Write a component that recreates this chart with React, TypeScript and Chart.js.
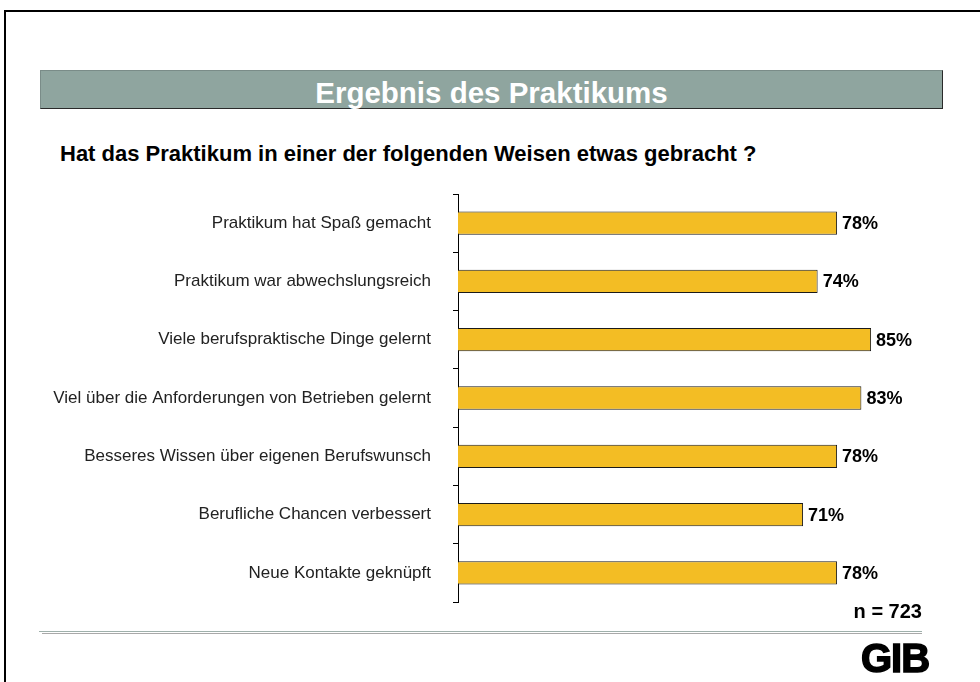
import React, { useEffect, useRef } from "react";
import { Chart, registerables } from "chart.js";

Chart.register(...registerables);

const categories: string[] = [
  "Praktikum hat Spaß gemacht",
  "Praktikum war abwechslungsreich",
  "Viele berufspraktische Dinge gelernt",
  "Viel über die Anforderungen von Betrieben gelernt",
  "Besseres Wissen über eigenen Berufswunsch",
  "Berufliche Chancen verbessert",
  "Neue Kontakte geknüpft",
];
const values: number[] = [78, 74, 85, 83, 78, 71, 78];
const titleText = "Ergebnis des Praktikums";
const subtitleText = "Hat das Praktikum in einer der folgenden Weisen etwas gebracht ?";
const sampleText = "n = 723";
const logoText = "GIB";

const FONT = "'Liberation Sans', Arial, Helvetica, sans-serif";

const valueLabelPlugin = {
  id: "valueLabels",
  afterDatasetsDraw(chart: any) {
    const ctx = chart.ctx;
    const meta = chart.getDatasetMeta(0);
    const data = chart.data.datasets[0].data as number[];
    ctx.save();
    ctx.font = `bold 18px ${FONT}`;
    ctx.fillStyle = "#000";
    ctx.textAlign = "left";
    ctx.textBaseline = "middle";
    meta.data.forEach((el: any, i: number) => {
      ctx.fillText(`${data[i]}%`, el.x + 5, el.y + 1);
    });
    ctx.restore();
  },
};

export default function App() {
  const canvasRef = useRef<HTMLCanvasElement | null>(null);

  useEffect(() => {
    document.body.style.margin = "0";
    document.body.style.overflow = "hidden";
    const canvas = canvasRef.current;
    if (!canvas) return;
    const chart = new Chart(canvas, {
      type: "bar",
      data: {
        labels: categories,
        datasets: [
          {
            data: values,
            backgroundColor: "#f3bd24",
            borderColor: "#1a1a1a",
            borderWidth: 1,
            barPercentage: 0.4,
            categoryPercentage: 1,
          },
        ],
      },
      options: {
        indexAxis: "y",
        responsive: false,
        animation: false,
        layout: { padding: { top: 194, bottom: 80, right: 36, left: 0 } },
        plugins: {
          legend: { display: false },
          tooltip: { enabled: false },
          title: { display: false },
        },
        scales: {
          x: { min: 0, max: 100, display: false },
          y: {
            afterFit: (scale: any) => {
              scale.width = 458;
            },
            grid: {
              offset: true,
              drawOnChartArea: false,
              tickLength: 5,
              color: "#000",
              lineWidth: 1,
            },
            border: { color: "#000", width: 1 },
            ticks: {
              autoSkip: false,
              color: "#222",
              padding: 22,
              font: { family: FONT, size: 17 },
            },
          },
        },
      },
      plugins: [valueLabelPlugin],
    });
    return () => chart.destroy();
  }, []);

  return (
    <div
      style={{
        position: "fixed",
        left: 0,
        top: 0,
        width: 980,
        height: 682,
        overflow: "hidden",
        background: "#fff",
        fontFamily: FONT,
      }}
    >
      <div
        style={{
          position: "absolute",
          left: 4,
          top: 10,
          width: 1000,
          height: 700,
          borderLeft: "2px solid #000",
          borderTop: "2px solid #000",
        }}
      />
      <div
        style={{
          position: "absolute",
          left: 40,
          top: 70,
          width: 903,
          height: 39,
          background: "#8fa59f",
          borderRight: "1px solid #2a2a2a",
          borderBottom: "1px solid #2a2a2a",
          borderTop: "1px solid #7a8c88",
          borderLeft: "1px solid #7a8c88",
          boxSizing: "border-box",
          color: "#fff",
          fontWeight: "bold",
          fontSize: 29.5,
          lineHeight: "44px",
          textAlign: "center",
          whiteSpace: "nowrap",
        }}
      >
        {titleText}
      </div>
      <div
        style={{
          position: "absolute",
          left: 60,
          top: 141,
          fontWeight: "bold",
          fontSize: 22,
          color: "#000",
          whiteSpace: "nowrap",
        }}
      >
        {subtitleText}
      </div>
      <canvas
        ref={canvasRef}
        width={980}
        height={682}
        style={{ position: "absolute", left: 0, top: 0, width: 980, height: 682 }}
      />
      <div
        style={{
          position: "absolute",
          right: 980 - 922,
          top: 600,
          fontWeight: "bold",
          fontSize: 20,
          color: "#000",
          whiteSpace: "nowrap",
        }}
      >
        {sampleText}
      </div>
      <div style={{ position: "absolute", left: 39, top: 631, width: 883, height: 1, background: "#9fb0ab" }} />
      <div style={{ position: "absolute", left: 42, top: 633, width: 880, height: 1, background: "#a9a9a9" }} />
      <div
        style={{
          position: "absolute",
          left: 861,
          top: 635,
          fontWeight: "bold",
          fontSize: 40,
          lineHeight: "46px",
          color: "#000",
          WebkitTextStroke: "1.5px #000",
          letterSpacing: -1,
          whiteSpace: "nowrap",
        }}
      >
        {logoText}
      </div>
    </div>
  );
}
